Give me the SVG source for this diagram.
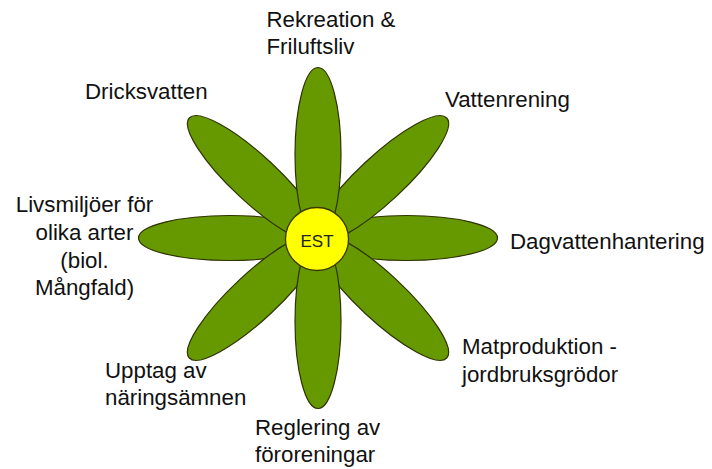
<svg xmlns="http://www.w3.org/2000/svg" width="712" height="469" viewBox="0 0 712 469">
<style>
.petal{fill:#669900;stroke:#2e3300;stroke-width:1.2}
.core{fill:#ffff00;stroke:#3a3a00;stroke-width:1.3}
.lbl{font-family:"Liberation Sans",Arial,sans-serif;font-size:22.3px;fill:#111}
.mid{text-anchor:middle}
.est{font-family:"Liberation Sans",Arial,sans-serif;font-size:17px;fill:#222;text-anchor:middle}
</style>
<rect width="712" height="469" fill="#ffffff"/>
<g id="flower">
<g id="petals" transform="translate(318,238)">
<ellipse class="petal" rx="91" ry="22.5" transform="rotate(180) translate(88.5,0)"/>
<ellipse class="petal" rx="91" ry="22.5" transform="rotate(0) translate(88.5,0)"/>
<ellipse class="petal" rx="90" ry="23" transform="rotate(-137) translate(86,0)"/>
<ellipse class="petal" rx="90" ry="23" transform="rotate(-43) translate(86,0)"/>
<ellipse class="petal" rx="90" ry="23" transform="rotate(43) translate(86,0)"/>
<ellipse class="petal" rx="90" ry="23" transform="rotate(137) translate(86,0)"/>
<ellipse class="petal" rx="87" ry="23" transform="rotate(-90) translate(83.5,0)"/>
<ellipse class="petal" rx="87" ry="23" transform="rotate(90) translate(83.5,0)"/>
</g>
<g id="center">
<circle class="core" cx="317" cy="239" r="31.5"/>
<text class="est" x="317" y="246.5">EST</text>
</g>
</g>
<g id="label-rekreation"><text class="lbl" x="266.5" y="27">Rekreation &amp;</text><text class="lbl" x="266.5" y="54">Friluftsliv</text></g>
<g id="label-vattenrening"><text class="lbl" x="445" y="106.5">Vattenrening</text></g>
<g id="label-dagvatten"><text class="lbl" x="510" y="248.5">Dagvattenhantering</text></g>
<g id="label-matproduktion"><text class="lbl" x="462" y="353.5">Matproduktion -</text><text class="lbl" x="462" y="382">jordbruksgrödor</text></g>
<g id="label-reglering"><text class="lbl" x="255" y="435">Reglering av</text><text class="lbl" x="255" y="462">föroreningar</text></g>
<g id="label-upptag"><text class="lbl" x="105" y="378">Upptag av</text><text class="lbl" x="105" y="405">näringsämnen</text></g>
<g id="label-livsmiljoer"><text class="lbl mid" x="84.5" y="211.5">Livsmiljöer för</text><text class="lbl mid" x="84.5" y="239.5">olika arter</text><text class="lbl mid" x="84.5" y="267.5">(biol.</text><text class="lbl mid" x="84.5" y="295">Mångfald)</text></g>
<g id="label-dricksvatten"><text class="lbl" x="85" y="98.5">Dricksvatten</text></g>
</svg>
